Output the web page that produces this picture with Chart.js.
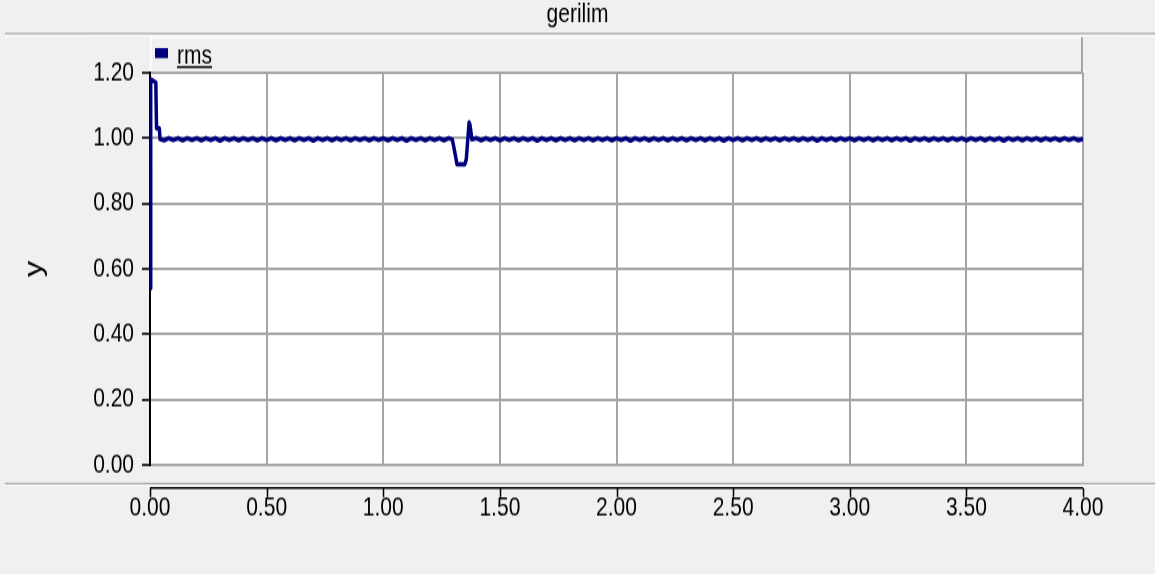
<!DOCTYPE html>
<html>
<head>
<meta charset="utf-8">
<script src="https://cdn.jsdelivr.net/npm/chart.js@4/dist/chart.umd.min.js"></script>
<style>
  html, body { margin: 0; padding: 0; background: #f0f0f0; overflow: hidden; }
  #wrap { width: 1155px; height: 574px; }
  /* the plot is drawn on a shorter canvas and stretched vertically */
  #c { transform: scaleY(1.29864); transform-origin: 0 0; display: block; }
</style>
</head>
<body>
<div id="wrap"><canvas id="c" width="1155" height="442"></canvas></div>
<script>
// Chart text
const chartTitle = 'gerilim';
const seriesName = 'rms';
const yAxisTitle = 'y';

// Axis ticks
const xTicks = [0, 0.5, 1.0, 1.5, 2.0, 2.5, 3.0, 3.5, 4.0];
const yTicks = [0, 0.2, 0.4, 0.6, 0.8, 1.0, 1.2];

// Start-up transient
const timeStart = [0, 0.003, 0.025, 0.028, 0.040, 0.043];
const rmsStart  = [0.54, 1.18, 1.17, 1.03, 1.03, 0.997];

// Steady state before the sag (small ripple around 1.0)
const timeSteadyA = [
  0.06, 0.08, 0.10, 0.12, 0.14, 0.16, 0.18, 0.20, 0.22, 0.24,
  0.26, 0.28, 0.30, 0.32, 0.34, 0.36, 0.38, 0.40, 0.42, 0.44,
  0.46, 0.48, 0.50, 0.52, 0.54, 0.56, 0.58, 0.60, 0.62, 0.64,
  0.66, 0.68, 0.70, 0.72, 0.74, 0.76, 0.78, 0.80, 0.82, 0.84,
  0.86, 0.88, 0.90, 0.92, 0.94, 0.96, 0.98, 1.00, 1.02, 1.04,
  1.06, 1.08, 1.10, 1.12, 1.14, 1.16, 1.18, 1.20, 1.22, 1.24,
  1.26, 1.28
];
const rmsSteadyA = [
  0.993, 1.000, 0.994, 1.000, 0.993, 1.000, 0.994, 1.000, 0.993, 1.000,
  0.994, 1.000, 0.992, 1.000, 0.994, 1.000, 0.993, 1.000, 0.994, 1.000,
  0.993, 1.000, 0.994, 1.000, 0.993, 1.000, 0.994, 1.000, 0.993, 1.000,
  0.994, 1.000, 0.992, 1.000, 0.994, 1.000, 0.993, 1.000, 0.994, 1.000,
  0.993, 1.000, 0.994, 1.000, 0.993, 1.000, 0.994, 1.000, 0.993, 1.000,
  0.994, 1.000, 0.992, 1.000, 0.994, 1.000, 0.993, 1.000, 0.994, 1.000,
  0.993, 1.000
];

// Voltage sag and recovery overshoot
const timeSag = [1.296, 1.306, 1.316, 1.350, 1.356, 1.368, 1.372, 1.380];
const rmsSag  = [0.996, 0.960, 0.920, 0.920, 0.935, 1.048, 1.040, 0.996];

// Steady state after the sag
const timeSteadyB = [
  1.40, 1.42, 1.44, 1.46, 1.48, 1.50, 1.52, 1.54, 1.56, 1.58,
  1.60, 1.62, 1.64, 1.66, 1.68, 1.70, 1.72, 1.74, 1.76, 1.78,
  1.80, 1.82, 1.84, 1.86, 1.88, 1.90, 1.92, 1.94, 1.96, 1.98,
  2.00, 2.02, 2.04, 2.06, 2.08, 2.10, 2.12, 2.14, 2.16, 2.18,
  2.20, 2.22, 2.24, 2.26, 2.28, 2.30, 2.32, 2.34, 2.36, 2.38,
  2.40, 2.42, 2.44, 2.46, 2.48, 2.50, 2.52, 2.54, 2.56, 2.58,
  2.60, 2.62, 2.64, 2.66, 2.68, 2.70, 2.72, 2.74, 2.76, 2.78,
  2.80, 2.82, 2.84, 2.86, 2.88, 2.90, 2.92, 2.94, 2.96, 2.98,
  3.00, 3.02, 3.04, 3.06, 3.08, 3.10, 3.12, 3.14, 3.16, 3.18,
  3.20, 3.22, 3.24, 3.26, 3.28, 3.30, 3.32, 3.34, 3.36, 3.38,
  3.40, 3.42, 3.44, 3.46, 3.48, 3.50, 3.52, 3.54, 3.56, 3.58,
  3.60, 3.62, 3.64, 3.66, 3.68, 3.70, 3.72, 3.74, 3.76, 3.78,
  3.80, 3.82, 3.84, 3.86, 3.88, 3.90, 3.92, 3.94, 3.96, 3.98,
  4.00
];
const rmsSteadyB = [
  1.000, 0.993, 1.000, 0.994, 1.000, 0.993, 1.000, 0.994, 1.000, 0.993,
  1.000, 0.994, 1.000, 0.992, 1.000, 0.994, 1.000, 0.993, 1.000, 0.994,
  1.000, 0.993, 1.000, 0.994, 1.000, 0.993, 1.000, 0.994, 1.000, 0.993,
  1.000, 0.994, 1.000, 0.992, 1.000, 0.994, 1.000, 0.993, 1.000, 0.994,
  1.000, 0.993, 1.000, 0.994, 1.000, 0.993, 1.000, 0.994, 1.000, 0.993,
  1.000, 0.994, 1.000, 0.992, 1.000, 0.994, 1.000, 0.993, 1.000, 0.994,
  1.000, 0.993, 1.000, 0.994, 1.000, 0.993, 1.000, 0.994, 1.000, 0.993,
  1.000, 0.994, 1.000, 0.992, 1.000, 0.994, 1.000, 0.993, 1.000, 0.994,
  1.000, 0.993, 1.000, 0.994, 1.000, 0.993, 1.000, 0.994, 1.000, 0.993,
  1.000, 0.994, 1.000, 0.992, 1.000, 0.994, 1.000, 0.993, 1.000, 0.994,
  1.000, 0.993, 1.000, 0.994, 1.000, 0.993, 1.000, 0.994, 1.000, 0.993,
  1.000, 0.994, 1.000, 0.992, 1.000, 0.994, 1.000, 0.993, 1.000, 0.994,
  1.000, 0.993, 1.000, 0.994, 1.000, 0.993, 1.000, 0.994, 1.000, 0.993,
  0.998
];

const time = [].concat(timeStart, timeSteadyA, timeSag, timeSteadyB);
const rms  = [].concat(rmsStart, rmsSteadyA, rmsSag, rmsSteadyB);
const points = time.map((t, i) => ({ x: t, y: rms[i] }));

const FONT = "'Liberation Sans', Arial, sans-serif";
const LINE_BLUE = '#00007f';
const GRID_GRAY = '#a6a6a6';
const PANEL = '#f0f0f0';

// Window frame, legend strip and the detached x axis line
const framePlugin = {
  id: 'frame',
  beforeDraw(chart) {
    const { ctx, chartArea: a, width, height } = chart;
    ctx.save();
    ctx.fillStyle = PANEL;
    ctx.fillRect(0, 0, width, height);
    // plot background
    ctx.fillStyle = '#ffffff';
    ctx.fillRect(a.left, a.top, a.right - a.left, a.bottom - a.top);
    // separator under the title
    ctx.strokeStyle = GRID_GRAY;
    ctx.lineWidth = 1.2;
    ctx.beginPath(); ctx.moveTo(5, 25.8); ctx.lineTo(width, 25.8); ctx.stroke();
    ctx.strokeStyle = '#ffffff';
    ctx.lineWidth = 1;
    ctx.beginPath(); ctx.moveTo(5, 27.4); ctx.lineTo(width, 27.4); ctx.stroke();
    // legend strip
    const lt = 28.6, lb = a.top - 0.8;
    ctx.fillStyle = PANEL;
    ctx.fillRect(a.left, lt, a.right - a.left, lb - lt);
    ctx.strokeStyle = '#ffffff';
    ctx.lineWidth = 1.2;
    ctx.beginPath(); ctx.moveTo(a.left, lt + 0.5); ctx.lineTo(a.right, lt + 0.5); ctx.stroke();
    ctx.lineWidth = 1.5;
    ctx.beginPath(); ctx.moveTo(a.left + 0.75, lt); ctx.lineTo(a.left + 0.75, lb); ctx.stroke();
    ctx.strokeStyle = GRID_GRAY;
    ctx.lineWidth = 2;
    ctx.beginPath(); ctx.moveTo(a.right - 1, lt); ctx.lineTo(a.right - 1, lb); ctx.stroke();
    // separator above the x axis
    ctx.lineWidth = 1.2;
    ctx.beginPath(); ctx.moveTo(5, 372.3); ctx.lineTo(width, 372.3); ctx.stroke();
    ctx.strokeStyle = '#ffffff';
    ctx.lineWidth = 1;
    ctx.beginPath(); ctx.moveTo(5, 373.9); ctx.lineTo(width, 373.9); ctx.stroke();
    ctx.restore();
  },
  afterDraw(chart) {
    const { ctx, chartArea: a } = chart;
    const xs = chart.scales.x;
    ctx.save();
    // legend entry
    ctx.fillStyle = LINE_BLUE;
    ctx.fillRect(155, 37, 13, 7.7);
    ctx.fillStyle = '#000000';
    ctx.font = '21px ' + FONT;
    ctx.textBaseline = 'alphabetic';
    ctx.textAlign = 'left';
    ctx.fillText(seriesName, 177, 48.5);
    const w = ctx.measureText(seriesName).width;
    ctx.fillRect(177, 50.8, w, 1.6);
    // detached x axis line with ticks
    const yLine = 375.8;
    ctx.strokeStyle = '#000000';
    ctx.lineWidth = 1.6;
    ctx.beginPath(); ctx.moveTo(a.left, yLine); ctx.lineTo(a.right, yLine); ctx.stroke();
    ctx.lineWidth = 1.5;
    xTicks.forEach(v => {
      const px = Math.round(xs.getPixelForValue(v)) + 0.5;
      ctx.beginPath(); ctx.moveTo(px, yLine); ctx.lineTo(px, yLine + 7); ctx.stroke();
    });
    ctx.restore();
  }
};

new Chart(document.getElementById('c'), {
  type: 'line',
  data: {
    datasets: [{
      label: seriesName,
      data: points,
      borderColor: LINE_BLUE,
      backgroundColor: LINE_BLUE,
      borderWidth: 3.5,
      borderJoinStyle: 'round',
      pointRadius: 0,
      tension: 0,
      fill: false
    }]
  },
  options: {
    responsive: false,
    animation: false,
    devicePixelRatio: 1,
    layout: { padding: 0 },
    plugins: {
      legend: { display: false },
      tooltip: { enabled: false },
      title: {
        display: true,
        text: chartTitle,
        color: '#000000',
        font: { family: FONT, size: 21, weight: 'normal', lineHeight: 1.1 },
        padding: { top: 0, bottom: 32.9 }
      }
    },
    scales: {
      x: {
        type: 'linear',
        min: 0,
        max: 4,
        afterFit(scale) { scale.height = 84; },
        afterBuildTicks(scale) { scale.ticks = xTicks.map(v => ({ value: v })); },
        ticks: {
          color: '#000000',
          font: { family: FONT, size: 21, lineHeight: 1.2 },
          padding: 20.5,
          maxRotation: 0,
          autoSkip: false,
          callback: v => Number(v).toFixed(2)
        },
        grid: { color: GRID_GRAY, lineWidth: 2, drawTicks: false },
        border: { color: GRID_GRAY, width: 2 }
      },
      y: {
        min: 0,
        max: 1.2,
        afterFit(scale) { scale.width = 150; },
        afterBuildTicks(scale) { scale.ticks = yTicks.map(v => ({ value: v })); },
        ticks: {
          color: '#000000',
          font: { family: FONT, size: 21 },
          padding: 8,
          autoSkip: false,
          callback: v => Number(v).toFixed(2)
        },
        grid: { color: GRID_GRAY, lineWidth: 2, tickColor: '#000000', tickLength: 8, tickWidth: 1.6 },
        border: { color: '#000000', width: 2 },
        title: {
          display: true,
          text: yAxisTitle,
          color: '#000000',
          font: { family: FONT, size: 25, lineHeight: 1.2 },
          padding: { top: 20, bottom: 0 }
        }
      },
      // empty margin strip on the right of the plot
      yMargin: {
        position: 'right',
        min: 0,
        max: 1.2,
        afterFit(scale) { scale.width = 72; },
        ticks: { display: false },
        grid: { display: false, drawOnChartArea: false },
        border: { display: false }
      }
    }
  },
  plugins: [framePlugin]
});
</script>
</body>
</html>
